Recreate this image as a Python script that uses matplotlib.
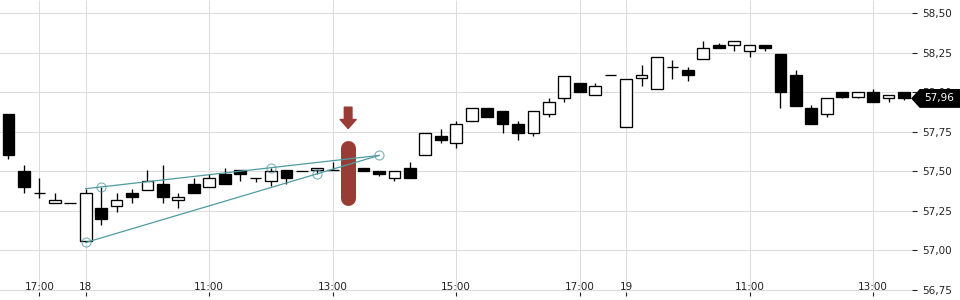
import numpy as np
import matplotlib
matplotlib.use("Agg")
import matplotlib.pyplot as plt
import matplotlib.ticker as mtick
import matplotlib.transforms as mtrans
from matplotlib.patches import Polygon

# 15 minute candles, index 0 = 16:30 on the first day (sessions 09:00-17:30)
open_ = [57.86, 57.50, 57.36, 57.30, 57.30, 57.06, 57.27, 57.28, 57.36, 57.38,
         57.42, 57.32, 57.42, 57.40, 57.48, 57.51, 57.46, 57.44, 57.51, 57.50,
         57.51, 57.51, 57.51, 57.52, 57.50, 57.46, 57.52, 57.60, 57.72, 57.68,
         57.82, 57.90, 57.88, 57.80, 57.74, 57.86, 57.96, 58.06, 57.98, 58.11,
         57.78, 58.09, 58.02, 58.16, 58.14, 58.21, 58.30, 58.30, 58.26, 58.30,
         58.24, 58.11, 57.90, 57.86, 58.00, 57.97, 58.00, 57.96, 58.00]
high = [57.86, 57.54, 57.46, 57.36, 57.30, 57.39, 57.40, 57.36, 57.39, 57.51,
        57.54, 57.36, 57.46, 57.48, 57.52, 57.51, 57.46, 57.52, 57.51, 57.50,
        57.52, 57.56, 57.51, 57.52, 57.50, 57.50, 57.56, 57.74, 57.77, 57.82,
        57.90, 57.90, 57.88, 57.82, 57.88, 57.96, 58.10, 58.06, 58.06, 58.11,
        58.08, 58.17, 58.22, 58.20, 58.16, 58.32, 58.31, 58.32, 58.30, 58.30,
        58.24, 58.14, 57.92, 57.96, 58.00, 58.00, 58.02, 57.98, 58.00]
low = [57.58, 57.36, 57.33, 57.30, 57.30, 57.05, 57.16, 57.24, 57.30, 57.38,
       57.30, 57.27, 57.36, 57.40, 57.42, 57.44, 57.43, 57.41, 57.42, 57.50,
       57.48, 57.51, 57.48, 57.50, 57.47, 57.44, 57.46, 57.60, 57.68, 57.65,
       57.82, 57.84, 57.74, 57.70, 57.72, 57.84, 57.94, 58.00, 57.98, 58.11,
       57.78, 58.04, 58.02, 58.08, 58.07, 58.21, 58.28, 58.26, 58.22, 58.26,
       57.90, 57.91, 57.80, 57.84, 57.96, 57.96, 57.94, 57.94, 57.95]
close = [57.60, 57.40, 57.36, 57.32, 57.30, 57.36, 57.20, 57.32, 57.34, 57.44,
         57.34, 57.34, 57.36, 57.46, 57.42, 57.48, 57.46, 57.50, 57.46, 57.50,
         57.52, 57.51, 57.51, 57.50, 57.48, 57.50, 57.46, 57.74, 57.70, 57.80,
         57.90, 57.84, 57.80, 57.74, 57.88, 57.94, 58.10, 58.00, 58.04, 58.11,
         58.08, 58.11, 58.22, 58.16, 58.11, 58.28, 58.28, 58.32, 58.30, 58.28,
         58.00, 57.91, 57.80, 57.96, 57.97, 58.00, 57.94, 57.98, 57.96]

tick_idx = [2, 5, 13, 21, 29, 37, 40, 48, 56]
tick_labels = ["17:00", "18", "11:00", "13:00", "15:00", "17:00", "19", "11:00", "13:00"]
y_ticks = [56.75, 57.00, 57.25, 57.50, 57.75, 58.00, 58.25, 58.50]

# trend lines drawn on the chart (candle index, price)
upper_line = ([5, 24], [57.39, 57.60])
lower_line = ([5, 24], [57.05, 57.60])
anchor_x = [5, 6, 17, 20, 24]
anchor_y = [57.05, 57.40, 57.52, 57.48, 57.60]

signal_idx = 22
signal_range = (57.33, 57.645)
last_price = 57.96

fig = plt.figure(figsize=(9.6, 3.0), dpi=100)
ax = fig.add_axes([0, 0, 912 / 960, 1])
ax.set_xlim(-0.55, 58.52)
ax.set_ylim(56.6867, 58.582)
for s in ax.spines.values():
    s.set_visible(False)

grid_c = "#dcdcdc"
ax.set_yticks(y_ticks)
ax.yaxis.tick_right()
ax.yaxis.set_major_formatter(mtick.FuncFormatter(lambda v, p: f"{v:.2f}".replace(".", ",")))
ax.tick_params(axis="y", length=3.6, width=0.8, pad=4, labelsize=7.5, colors="#222222")
ax.grid(axis="y", color=grid_c, lw=0.75)
ax.set_axisbelow(True)
ax.set_xticks([])

# vertical grid + small tick marks + time labels
ax.vlines(tick_idx, 56.75, 58.582, color=grid_c, lw=0.75, zorder=0)
xtr = ax.get_xaxis_transform()
ax.vlines(tick_idx, 0.013, 0.026, color="#222222", lw=0.8, transform=xtr)
for i, lab in zip(tick_idx, tick_labels):
    ax.text(i, 13 / 300, lab, transform=xtr, ha="center", va="center",
            fontsize=7.5, color="#222222")

# candles
x = np.arange(len(open_))
o = np.array(open_)
c = np.array(close)
up = c >= o
ax.vlines(x, low, high, color="black", lw=0.95, zorder=2)
ax.bar(x, np.abs(c - o), bottom=np.minimum(o, c), width=0.76,
       color=np.where(up, "white", "black"), edgecolor="black", lw=0.95, zorder=3)

# signal marker
red = "#9a3c36"
ax.plot([signal_idx, signal_idx], signal_range, lw=10.8, color=red,
        solid_capstyle="round", zorder=4)
ax.annotate("", xy=(signal_idx, 57.77), xytext=(signal_idx, 57.905),
            arrowprops=dict(arrowstyle="simple,head_length=0.65,head_width=1.15,tail_width=0.55",
                            color=red, shrinkA=0, shrinkB=0, mutation_scale=10), zorder=4)

# trend lines
teal = "#4f9ba2"
ax.plot(*upper_line, color=teal, lw=0.9, zorder=5)
ax.plot(*lower_line, color=teal, lw=0.9, zorder=5)
ax.plot(anchor_x, anchor_y, ls="none", marker="o", ms=6.5, mfc="none",
        mec=teal, mew=0.8, alpha=0.75, zorder=5)

# last price tag
btr = mtrans.blended_transform_factory(ax.transAxes, ax.transData)
px = 1 / 912
hy = 8.7 / 158
tag = Polygon([(1.0, last_price), (1 + 8 * px, last_price + hy), (1 + 50 * px, last_price + hy),
               (1 + 50 * px, last_price - hy), (1 + 8 * px, last_price - hy)],
              closed=True, transform=btr, color="black", clip_on=False, zorder=10)
ax.add_patch(tag)
ax.text(1 + 27 * px, last_price, f"{last_price:.2f}".replace(".", ","), transform=btr,
        ha="center", va="center", fontsize=7.5, color="white", clip_on=False, zorder=11)

fig.savefig("out.png", dpi=100)
